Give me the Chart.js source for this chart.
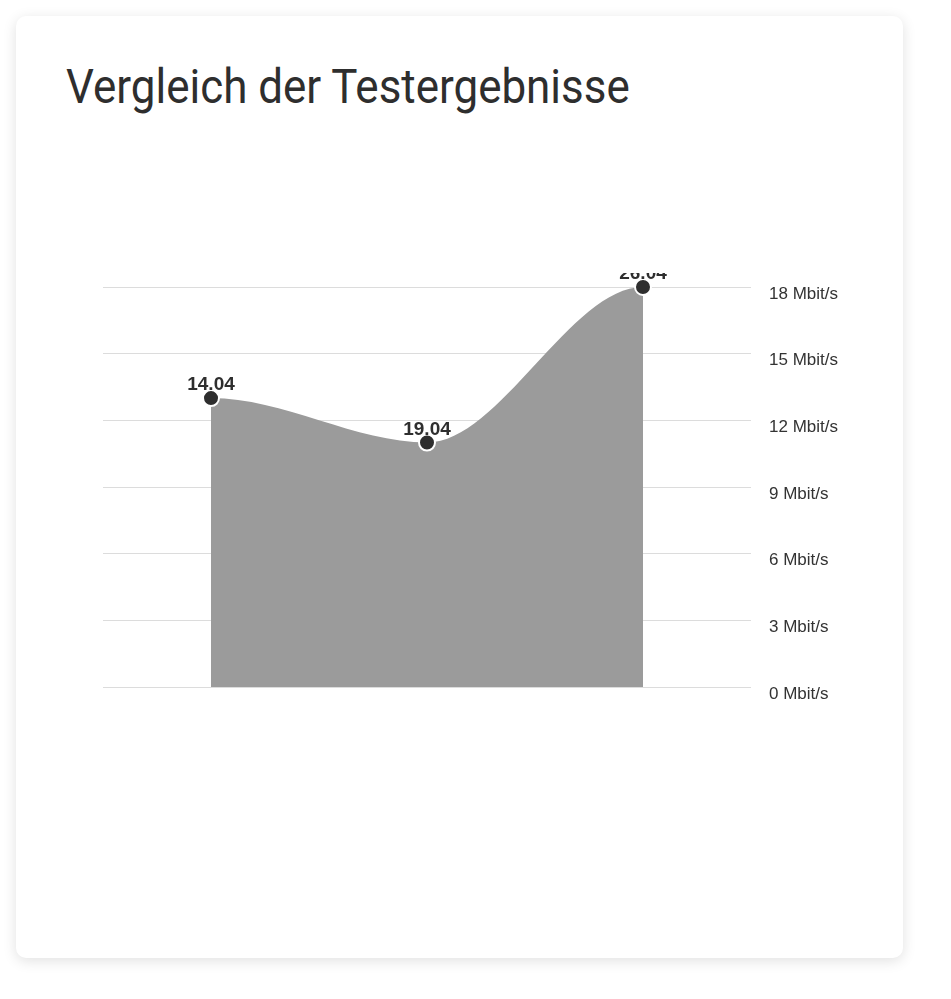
<!DOCTYPE html>
<html>
<head>
<meta charset="utf-8">
<script src="https://cdn.jsdelivr.net/npm/chart.js@4"></script>
<style>
  html, body { margin: 0; padding: 0; background: #fff; }
  body { width: 951px; height: 999px; position: relative; overflow: hidden; }
  .card {
    position: absolute; left: 16px; top: 16px; width: 887px; height: 942px;
    background: #fff; border-radius: 10px;
    box-shadow: 0 3px 14px rgba(0, 0, 0, 0.12);
  }
  h2 {
    position: absolute; left: 66px; top: 62px; margin: 0;
    font-family: Roboto, "Liberation Sans", sans-serif;
    font-weight: normal; font-size: 49px; line-height: 49px;
    color: #2e2e2e; white-space: nowrap;
    transform-origin: 0 0;
  }
  #chart { position: absolute; left: 103px; top: 273px; }
</style>
</head>
<body>
<div class="card"></div>
<h2 id="title">Vergleich der Testergebnisse</h2>
<canvas id="chart" width="758" height="444"></canvas>
<script>
// Testdaten
const dates = ['14.04', '19.04', '26.04'];
const speeds = [13, 11, 18];
const yTicks = [0, 3, 6, 9, 12, 15, 18];

// Titel etwas schmaler (Originalschrift ist schmal)
const title = document.getElementById('title');
title.style.transform = 'scaleX(' + (564 / title.offsetWidth) + ')';

// Endpunkte der Kurve waagerecht auslaufen lassen
const flatEnds = {
    id: 'flatEnds',
    beforeDatasetsDraw(chart) {
        const meta = chart.getDatasetMeta(0);
        meta.dataset.updateControlPoints(chart.chartArea, 'x');
        const pts = meta.data;
        const first = pts[0];
        const last = pts[pts.length - 1];
        first.cp1y = first.y; first.cp2y = first.y;
        last.cp1y = last.y; last.cp2y = last.y;
    }
};

// Datum über jedem Punkt
const pointLabels = {
    id: 'pointLabels',
    afterDatasetsDraw(chart) {
        const ctx = chart.ctx;
        const pts = chart.getDatasetMeta(0).data;
        ctx.save();
        ctx.font = 'bold 19px "Liberation Sans", Arial, sans-serif';
        ctx.fillStyle = '#2e2e2e';
        ctx.textAlign = 'center';
        ctx.textBaseline = 'alphabetic';
        pts.forEach((p, i) => ctx.fillText(dates[i], p.x, p.y - 8));
        ctx.restore();
    }
};

new Chart(document.getElementById('chart'), {
    type: 'line',
    data: {
        labels: dates,
        datasets: [{
            data: speeds,
            fill: 'origin',
            backgroundColor: '#9b9b9b',
            borderWidth: 0,
            cubicInterpolationMode: 'monotone',
            pointRadius: 8,
            pointBackgroundColor: '#2e2e2e',
            pointBorderColor: '#ffffff',
            pointBorderWidth: 2,
            clip: false
        }]
    },
    options: {
        responsive: false,
        animation: false,
        devicePixelRatio: 1,
        layout: { autoPadding: false, padding: { top: 14, bottom: 30, left: 0, right: 0 } },
        plugins: {
            legend: { display: false },
            tooltip: { enabled: false }
        },
        scales: {
            x: { type: 'category', offset: true, display: false },
            y: {
                position: 'right',
                min: 0,
                max: 18,
                afterBuildTicks: (scale) => { scale.ticks = yTicks.map(v => ({ value: v })); },
                afterFit: (scale) => {
                    scale.width = 110;
                    scale.paddingTop = 0;
                    scale.paddingBottom = 0;
                },
                border: { display: false },
                grid: { color: '#dcdcdc', lineWidth: 1, drawTicks: false },
                ticks: {
                    padding: 18,
                    labelOffset: 7,
                    color: '#333',
                    font: { family: '"Liberation Sans", Arial, sans-serif', size: 17 },
                    callback: (v) => v + ' Mbit/s'
                }
            }
        }
    },
    plugins: [flatEnds, pointLabels]
});
</script>
</body>
</html>
